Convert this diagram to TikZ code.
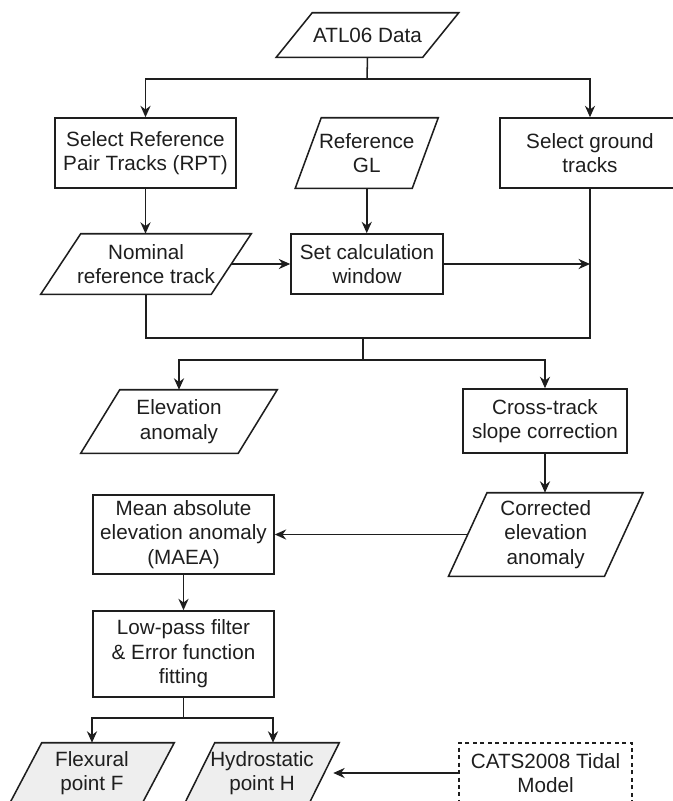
\documentclass[tikz,border=0pt]{standalone}
\usepackage{fontspec}
\setmainfont{Liberation Sans}
\usetikzlibrary{arrows.meta}
\pgfdeclarelayer{bg}
\pgfsetlayers{bg,main}
\newlength{\pxu}
\setlength{\pxu}{0.75pt}
\definecolor{ink}{HTML}{1E1E1E}
\definecolor{paleg}{HTML}{EEEEEE}
\tikzset{
  txt/.style={shape=rectangle, inner sep=0pt, align=center, text=ink,
    font=\fontsize{15.5}{18.4}\selectfont},
  box/.style={txt, draw=ink, line width=1.15pt},
  dashbox/.style={txt, draw=ink, line width=1.15pt, dash pattern=on 3pt off 2.6pt},
  ln/.style={draw=ink, line width=1.15pt},
  arr/.style={ln, -{Stealth[length=8.6pt, width=7.6pt, inset=2.8pt]}},
}
% parallelogram drawn around a text node: name, half slant (px), fill colour
\newcommand\parashape[3]{%
  \begin{pgfonlayer}{bg}
  \draw[ln, fill=#3] ([xshift=#2\pxu]#1.north west) -- ([xshift=#2\pxu]#1.north east)
    -- ([xshift=-#2\pxu]#1.south east) -- ([xshift=-#2\pxu]#1.south west) -- cycle;
  \end{pgfonlayer}}
\begin{document}
\begin{tikzpicture}[x=0.75pt, y=-0.75pt]
\useasboundingbox (0,0) rectangle (673,801);

% row 1
\node[txt, minimum width=146\pxu, minimum height=44\pxu] (atl) at (367.5,35) {ATL06 Data};
\parashape{atl}{18}{white}

% row 2
\node[box, minimum width=181\pxu, minimum height=70\pxu] (rpt) at (145.5,153) {Select Reference\\Pair Tracks (RPT)};
\node[txt, minimum width=116.5\pxu, minimum height=70\pxu] (gl) at (366.75,153) {Reference\\GL};
\parashape{gl}{13}{white}
\node[box, minimum width=180\pxu, minimum height=70\pxu] (sgt) at (590,153) {Select ground\\tracks};

% row 3
\node[txt, minimum width=170\pxu, minimum height=60\pxu] (nom) at (146,264) {Nominal\\reference track};
\parashape{nom}{20}{white}
\node[box, minimum width=152\pxu, minimum height=60\pxu] (set) at (367,264) {Set calculation\\window};

% row 4
\node[txt, minimum width=157\pxu, minimum height=63\pxu] (elev) at (179,421.5) {Elevation\\anomaly};
\parashape{elev}{19.5}{white}
\node[box, minimum width=164\pxu, minimum height=64\pxu] (cross) at (545,421) {Cross-track\\slope correction};

% row 5
\node[box, minimum width=181\pxu, minimum height=79\pxu] (maea) at (183.5,534.5) {Mean absolute\\elevation anomaly\\(MAEA)};
\node[txt, minimum width=155.5\pxu, minimum height=83\pxu] (corr) at (545.75,534.5) {Corrected\\elevation\\anomaly};
\parashape{corr}{19.25}{white}

% row 6
\node[box, minimum width=181\pxu, minimum height=86\pxu] (lp) at (183.5,654) {Low-pass filter\\\& Error function\\fitting};

% row 7
\node[txt, minimum width=132\pxu, minimum height=60\pxu] (flex) at (92,773) {Flexural\\point F};
\parashape{flex}{16}{paleg}
\node[txt, minimum width=124\pxu, minimum height=60\pxu] (hyd) at (262,773) {Hydrostatic\\point H};
\parashape{hyd}{15}{paleg}
\node[dashbox, minimum width=173\pxu, minimum height=60\pxu] (cats) at (545.5,773) {CATS2008 Tidal\\Model};

% junctions
\coordinate (j1) at (367,79);
\coordinate (j2) at (363,338);
\coordinate (j3) at (363,360);
\coordinate (j4) at (183.5,718);

% connectors
\draw[ln] (atl.south) -- (j1);
\draw[arr] (j1) -| (rpt.north);
\draw[arr] (j1) -| (sgt.north);
\draw[arr] (rpt.south) -- (rpt.south |- nom.north);
\draw[arr] (gl.south) -- (gl.south |- set.north);
\draw[arr] (nom.east) -- (set.west);
\draw[arr] (set.east) -- (set.east -| sgt.south);
\draw[ln] (nom.south) |- (j2) -| (sgt.south);
\draw[ln] (j2) -- (j3);
\draw[arr] (j3) -| (elev.north);
\draw[arr] (j3) -| (cross.north);
\draw[arr] (cross.south) -- (cross.south |- corr.north);
\draw[arr] (corr.west) -- (maea.east);
\draw[arr] (maea.south) -- (lp.north);
\draw[ln] (lp.south) -- (j4);
\draw[arr] (j4) -| (flex.north);
\draw[arr] (j4) -| ([xshift=11\pxu]hyd.north);
\draw[arr] (cats.west) -- ([xshift=9\pxu]hyd.east);
\end{tikzpicture}
\end{document}
